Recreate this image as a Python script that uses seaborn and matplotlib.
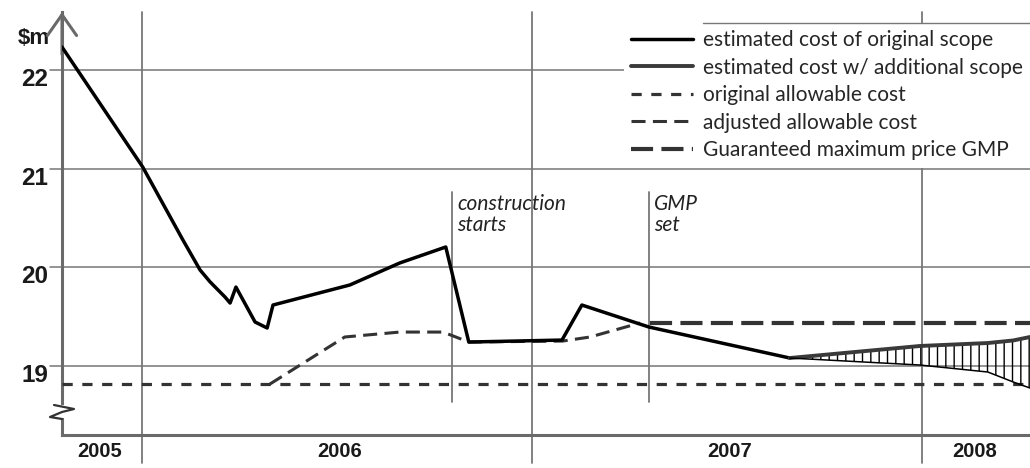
import numpy as np
import pandas as pd
import matplotlib.pyplot as plt
import matplotlib.transforms as mtransforms
import seaborn as sns

# values (x in decimal years, y in $m)
orig_x = [2005.796, 2006.003, 2006.106, 2006.150, 2006.176, 2006.214, 2006.227, 2006.242,
          2006.291, 2006.322, 2006.337, 2006.534, 2006.662, 2006.780, 2006.839, 2007.078,
          2007.129, 2007.301, 2007.662]
orig_y = [22.233, 21.017, 20.278, 19.974, 19.852, 19.700, 19.639, 19.801,
          19.447, 19.386, 19.619, 19.822, 20.045, 20.207, 19.244, 19.264,
          19.619, 19.396, 19.082]

split_x = [2007.662, 2007.996, 2008.170, 2008.235, 2008.278]
addl_y = [19.082, 19.204, 19.234, 19.260, 19.295]
orig_tail_y = [19.082, 19.011, 18.940, 18.839, 18.778]

adj_x = [2006.329, 2006.521, 2006.662, 2006.773, 2006.839, 2007.080, 2007.150, 2007.214, 2007.278]
adj_y = [18.818, 19.295, 19.345, 19.345, 19.244, 19.254, 19.295, 19.366, 19.437]

allow_x = [2005.796, 2008.278]
allow_y = [18.818, 18.818]

gmp_x = [2007.304, 2008.278]
gmp_y = [19.437, 19.437]

year_bounds = [2006, 2007, 2008]
year_labels = ['2005', '2006', '2007', '2008']
year_label_pos = [2005.893, 2006.508, 2007.508, 2008.137]
grid_vals = [22, 21, 20, 19]
events = {'construction\nstarts': 2006.796, 'GMP\nset': 2007.301}

sns.set_style('white')
plt.rcParams['font.family'] = ['Lato', 'DejaVu Sans']
bold_font = ['Liberation Sans', 'DejaVu Sans']

fig = plt.figure(figsize=(10.3, 4.68), dpi=100)
ax = fig.add_axes([62 / 1030, 33 / 468, 968 / 1030, 423 / 468])
ax.set_xlim(2005.796, 2008.278)
ax.set_ylim(18.302, 22.588)

gray = '#777777'
# grid
for v in grid_vals:
    ax.axhline(v, xmin=-12 / 968, xmax=1, color=gray, lw=1.1, clip_on=False, zorder=1)
for v in year_bounds:
    ax.axvline(v, ymin=-28 / 423, ymax=1, color=gray, lw=1.3, clip_on=False, zorder=1)

# event markers
for txt, xv in events.items():
    ax.plot([xv, xv], [20.76, 18.64], color=gray, lw=1.3, zorder=1)
    ax.text(xv + 0.014, 20.74, txt, fontsize=15, style='italic', va='top', ha='left',
            color='#222222', linespacing=1.05)

# series
sns.lineplot(x=allow_x, y=allow_y, ax=ax, color='#333333', lw=2.3,
             linestyle=(0, (3.2, 3.0)), label='original allowable cost', zorder=3)
sns.lineplot(x=adj_x, y=adj_y, ax=ax, color='#333333', lw=2.2, sort=False,
             linestyle=(0, (4.6, 2.4)), label='adjusted allowable cost', zorder=3)
sns.lineplot(x=gmp_x, y=gmp_y, ax=ax, color='#333333', lw=3.0,
             linestyle=(0, (5.3, 2.0)), label='Guaranteed maximum price GMP', zorder=3)
sns.lineplot(x=orig_x, y=orig_y, ax=ax, color='black', lw=2.5, sort=False,
             label='estimated cost of original scope', zorder=4)
sns.lineplot(x=split_x, y=addl_y, ax=ax, color='#3a3a3a', lw=2.8, sort=False,
             label='estimated cost w/ additional scope', zorder=4)
ax.plot(split_x, orig_tail_y, color='black', lw=1.1, zorder=4)
plt.rcParams['hatch.linewidth'] = 1.0
ax.fill_between(split_x, orig_tail_y, addl_y, facecolor='none', edgecolor='black',
                hatch='||', lw=0, zorder=3)

# axes styling
for s in ['top', 'right']:
    ax.spines[s].set_visible(False)
for s in ['left', 'bottom']:
    ax.spines[s].set_color('#6a6a6a')
    ax.spines[s].set_linewidth(2.2)

ax.set_yticks(grid_vals)
ax.set_yticklabels([str(v) for v in grid_vals], fontsize=17.5, fontweight='bold',
                   family=bold_font, color='#1a1a1a')
ax.tick_params(axis='y', length=0, pad=10)
off = mtransforms.ScaledTranslation(0, -0.07, fig.dpi_scale_trans)
for lab in ax.get_yticklabels():
    lab.set_transform(lab.get_transform() + off)

ax.set_xticks(year_label_pos)
ax.set_xticklabels(year_labels, fontsize=14.5, fontweight='bold', family=bold_font,
                   color='#1a1a1a')
ax.tick_params(axis='x', length=0, pad=5)

ax.text(-0.013, 1.0 - 26 / 423, '$m', transform=ax.transAxes, ha='right', va='center',
        fontsize=16, fontweight='bold', family=bold_font, color='#1a1a1a')

# axis arrow
ax.annotate('', xy=(0, 1.0), xytext=(0, 0.9), xycoords='axes fraction',
            arrowprops=dict(arrowstyle='->,head_length=1.0,head_width=0.7',
                            color='#6a6a6a', lw=2.2, mutation_scale=15,
                            shrinkA=0, shrinkB=0))

# axis break squiggle
ax.add_patch(plt.Rectangle((-4 / 968, 17 / 423), 8 / 968, 13 / 423, transform=ax.transAxes,
                           facecolor='white', edgecolor='none', clip_on=False, zorder=5))
bx = np.array([-8, 12, 0, -12, 0]) / 968
by = (435 - np.array([405, 409, 412, 417, 419])) / 423
ax.plot(bx, by, transform=ax.transAxes, color='#333333', lw=1.6, clip_on=False, zorder=6)

# legend
h, l = ax.get_legend_handles_labels()
order = ['estimated cost of original scope', 'estimated cost w/ additional scope',
         'original allowable cost', 'adjusted allowable cost', 'Guaranteed maximum price GMP']
hd = dict(zip(l, h))
leg = ax.legend([hd[k] for k in order], order, loc='upper right', bbox_to_anchor=(1.0, 0.974),
                borderaxespad=0, fontsize=15, handlelength=3.0, handletextpad=0.45,
                labelspacing=0.36, frameon=True, fancybox=False, framealpha=1,
                borderpad=0.35)
leg.get_frame().set_edgecolor('none')
leg.get_frame().set_facecolor('white')
leg.set_zorder(5)
ax.plot([0.662, 1.0], [0.974, 0.974], transform=ax.transAxes, color=gray, lw=1.0,
        clip_on=False, zorder=6)

fig.savefig('out.png', dpi=100)
